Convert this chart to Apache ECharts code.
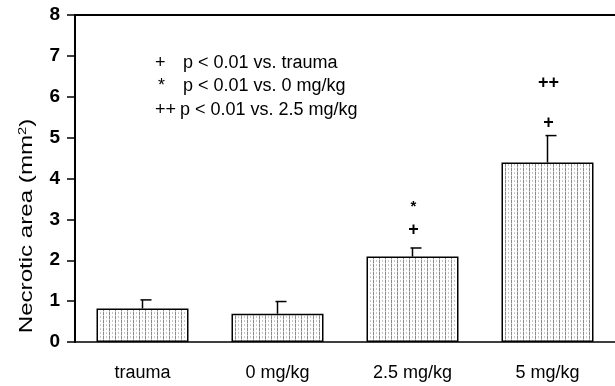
<!DOCTYPE html>
<html>
<head>
<meta charset="utf-8">
<script src="https://cdn.jsdelivr.net/npm/echarts@6/dist/echarts.min.js"></script>
<style>html,body{margin:0;padding:0;background:#fff}#c{width:615px;height:386px}</style>
</head>
<body>
<div id="c"></div>
<script>
const categories = ['trauma', '0 mg/kg', '2.5 mg/kg', '5 mg/kg'];
const means = [0.82, 0.69, 2.09, 4.39];
const errors = [0.21, 0.30, 0.21, 0.66];
const yTicks = [0, 1, 2, 3, 4, 5, 6, 7, 8];
const markers = [[], [], ['+', '*'], ['+', '++']];
const legendLines = [['+', 'p < 0.01 vs. trauma'], ['*', 'p < 0.01 vs. 0 mg/kg'], ['++', 'p < 0.01 vs. 2.5 mg/kg']];

function hatch() {
  const c = document.createElement('canvas');
  c.width = 6; c.height = 4;
  const g = c.getContext('2d');
  g.fillStyle = '#fff'; g.fillRect(0, 0, 6, 4);
  g.fillStyle = '#8a8a8a'; g.fillRect(1, 0, 1, 3);
  g.fillStyle = '#c8c8c8'; g.fillRect(1, 3, 1, 1); g.fillRect(4, 0, 1, 2);
  return c;
}

const chart = echarts.init(document.getElementById('c'), null, {renderer: 'canvas'});
const FONT = '"Liberation Sans", Arial, sans-serif';

const graphics = [];
legendLines.forEach((l, i) => {
  const y = 63 + i * 23.5;
  graphics.push({type: 'text', x: l[0] === '*' ? 158 : 155, y: y,
    style: {text: l[0], font: '18px ' + FONT, fill: '#000', verticalAlign: 'middle'}});
  graphics.push({type: 'text', x: l[0] === '++' ? 180 : 183, y: y,
    style: {text: l[1], font: '18px ' + FONT, fill: '#000', verticalAlign: 'middle'}});
});
graphics.push({type: 'text', x: 27, y: 226, rotation: Math.PI / 2, scaleX: 1.34,
  style: {text: '{a|Necrotic area (mm}{s|2}{a|)}', rich: {a: {fontFamily: FONT, fontSize: 18, fill: '#000'}, s: {fontFamily: FONT, fontSize: 11, fill: '#000', verticalAlign: 'top', padding: [0, 0, 9, 0]}}, align: 'center', verticalAlign: 'middle'}});

chart.setOption({
  animation: false,
  backgroundColor: '#fff',
  grid: {left: 75, right: -2, top: 15, bottom: 44},
  graphic: graphics,
  xAxis: [{
    type: 'category', data: categories,
    axisLine: {lineStyle: {color: '#000', width: 1.5}},
    axisTick: {show: false},
    axisLabel: {color: '#000', fontFamily: FONT, fontSize: 18, margin: 22}
  }, {
    type: 'category', data: categories, position: 'top',
    axisLine: {lineStyle: {color: '#000', width: 2}},
    axisTick: {show: false}, axisLabel: {show: false}
  }],
  yAxis: {
    type: 'value', min: 0, max: 8, interval: 1,
    axisLine: {show: true, lineStyle: {color: '#000', width: 2}},
    axisTick: {show: true, length: 8, lineStyle: {color: '#000', width: 1.5}},
    splitLine: {show: false},
    axisLabel: {color: '#000', fontFamily: FONT, fontSize: 19, fontWeight: 'bold', margin: 15,
      formatter: v => yTicks.includes(v) ? String(v) : ''}
  },
  series: [{
    type: 'bar', data: means, barWidth: 92,
    itemStyle: {color: {image: hatch(), repeat: 'repeat'}, borderColor: '#000', borderWidth: 1.5},
    z: 2
  }, {
    type: 'custom', z: 3,
    data: means.map((m, i) => [i, m, m + errors[i]]),
    renderItem: (params, api) => {
      const i = api.value(0);
      const p0 = api.coord([i, api.value(1)]);
      const p1 = api.coord([i, api.value(2)]);
      const children = [
        {type: 'line', shape: {x1: p0[0], y1: p0[1], x2: p1[0], y2: p1[1]}, style: {stroke: '#000', lineWidth: 1.5}},
        {type: 'line', shape: {x1: p1[0] - 2, y1: p1[1], x2: p1[0] + 9, y2: p1[1]}, style: {stroke: '#000', lineWidth: 1.5}}
      ];
      const mk = markers[i];
      const offs = i === 2 ? [-18, -41] : [-13, -53];
      mk.forEach((t, k) => {
        children.push({type: 'text', x: p1[0] + 1, y: p1[1] + offs[k],
          style: {text: t, fontFamily: FONT, fontWeight: 'bold', fontSize: t === '*' ? 15 : 18, fill: '#000', align: 'center', verticalAlign: 'middle'}});
      });
      return {type: 'group', children};
    }
  }]
});
</script>
</body>
</html>
